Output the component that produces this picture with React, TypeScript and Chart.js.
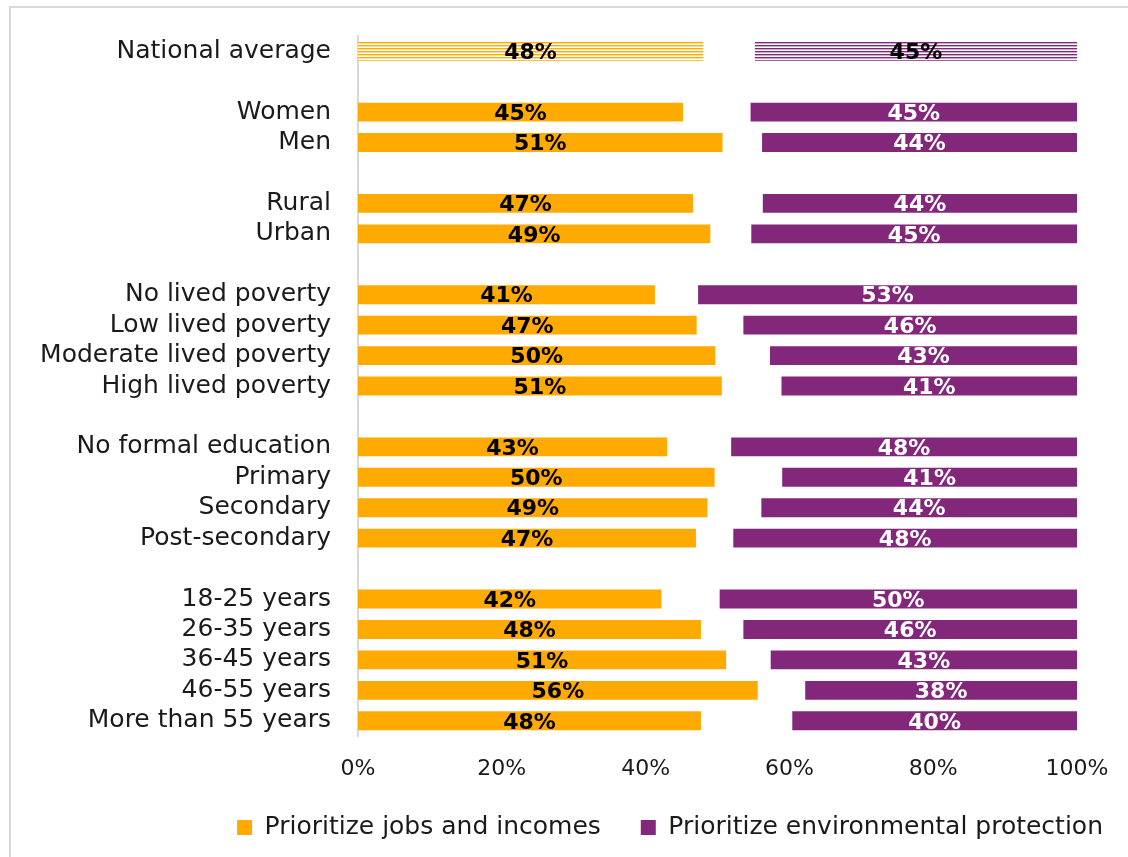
import React, { useEffect, useRef } from 'react';
import { Chart, registerables } from 'chart.js';

Chart.register(...registerables);

const FONT = '"DejaVu Sans", sans-serif';
const TEXT = '#1a1a1a';
const ORANGE = '#FFAA00';
const PURPLE = '#83277A';

const categories = [
  'National average', '',
  'Women', 'Men', '',
  'Rural', 'Urban', '',
  'No lived poverty', 'Low lived poverty', 'Moderate lived poverty', 'High lived poverty', '',
  'No formal education', 'Primary', 'Secondary', 'Post-secondary', '',
  '18-25 years', '26-35 years', '36-45 years', '46-55 years', 'More than 55 years',
];

const jobsValues: (number | null)[] = [
  48.0, null,
  45.2, 50.7, null,
  46.6, 49.0, null,
  41.3, 47.1, 49.7, 50.6, null,
  43.0, 49.6, 48.6, 47.0, null,
  42.2, 47.7, 51.2, 55.6, 47.7,
];

const envValues: (number | null)[] = [
  44.8, null,
  45.4, 43.8, null,
  43.7, 45.3, null,
  52.7, 46.4, 42.7, 41.1, null,
  48.1, 41.0, 43.9, 47.8, null,
  49.7, 46.4, 42.6, 37.8, 39.6,
];

const xTicks = [0, 20, 40, 60, 80, 100];
const seriesNames = ['Prioritize jobs and incomes', 'Prioritize environmental protection'];
const seriesColors = [ORANGE, PURPLE];

function makeHatch(color: string) {
  const c = document.createElement('canvas');
  c.width = 8;
  c.height = 3;
  const g = c.getContext('2d')!;
  g.fillStyle = '#ffffff';
  g.fillRect(0, 0, 8, 3);
  g.fillStyle = color;
  g.fillRect(0, 0, 8, 1.4);
  return g.createPattern(c, 'repeat')!;
}

const barLabels = {
  id: 'barLabels',
  afterDatasetsDraw(chart: any) {
    const ctx = chart.ctx;
    ctx.save();
    ctx.font = `bold 22px ${FONT}`;
    ctx.textAlign = 'center';
    ctx.textBaseline = 'middle';
    chart.data.datasets.forEach((_ds: any, di: number) => {
      const meta = chart.getDatasetMeta(di);
      const vals = di === 0 ? jobsValues : envValues;
      meta.data.forEach((el: any, i: number) => {
        const v = vals[i];
        if (v == null) return;
        const { x, base, y } = el.getProps(['x', 'base', 'y'], true);
        ctx.fillStyle = di === 1 && i !== 0 ? '#ffffff' : '#000000';
        ctx.fillText(Math.round(v) + '%', (x + base) / 2, y + 2);
      });
    });
    ctx.restore();
  },
};

export default function App() {
  const ref = useRef<HTMLCanvasElement>(null);

  useEffect(() => {
    if (!ref.current) return;
    const hatchO = makeHatch(ORANGE);
    const hatchP = makeHatch(PURPLE);
    const chart = new Chart(ref.current, {
      type: 'bar',
      data: {
        labels: categories,
        datasets: [
          {
            label: seriesNames[0],
            data: jobsValues as any,
            yAxisID: 'y',
            grouped: false,
            backgroundColor: (c: any) => (c.dataIndex === 0 ? hatchO : ORANGE),
            borderWidth: 0,
            barPercentage: 0.62,
            categoryPercentage: 1,
          } as any,
          {
            label: seriesNames[1],
            data: envValues.map((v) => (v == null ? null : [100 - v, 100])) as any,
            yAxisID: 'y',
            grouped: false,
            backgroundColor: (c: any) => (c.dataIndex === 0 ? hatchP : PURPLE),
            borderWidth: 0,
            barPercentage: 0.62,
            categoryPercentage: 1,
          } as any,
        ],
      },
      options: {
        indexAxis: 'y',
        responsive: false,
        animation: false,
        layout: { padding: { left: 0, right: -15, top: 36, bottom: 7 } },
        scales: {
          x: {
            type: 'linear',
            min: 0,
            max: 100,
            grid: { display: false, drawTicks: false },
            border: { display: false },
            afterBuildTicks: (s: any) => {
              s.ticks = xTicks.map((v) => ({ value: v }));
            },
            afterFit: (s: any) => {
              s.height = 39;
              s.paddingLeft = 0;
              s.paddingRight = 0;
            },
            ticks: {
              padding: 20,
              color: TEXT,
              font: { family: FONT, size: 22 },
              callback: (v: any) => v + '%',
              maxRotation: 0,
            },
          },
          y: {
            type: 'category',
            position: 'left',
            grid: { display: false, drawTicks: false },
            border: { display: true, color: '#d9d9d9', width: 2 },
            afterFit: (s: any) => {
              s.width = 358;
              s.paddingTop = 0;
              s.paddingBottom = 0;
            },
            ticks: {
              autoSkip: false,
              padding: 27,
              color: TEXT,
              font: { family: FONT, size: 25 },
            },
          },
          yRight: {
            type: 'category',
            position: 'right',
            grid: { display: false, drawTicks: false },
            border: { display: false },
            ticks: { display: false },
            afterFit: (s: any) => {
              s.width = 66;
              s.paddingTop = 0;
              s.paddingBottom = 0;
            },
          },
        },
        plugins: {
          legend: {
            position: 'bottom',
            align: 'end',
            labels: {
              boxWidth: 15,
              boxHeight: 15,
              padding: 40,
              color: TEXT,
              font: { family: FONT, size: 25 },
              generateLabels: () =>
                seriesNames.map((name, i) => ({
                  text: name,
                  fillStyle: seriesColors[i],
                  strokeStyle: seriesColors[i],
                  lineWidth: 0,
                  hidden: false,
                  datasetIndex: i,
                  fontColor: TEXT,
                })),
            },
          },
          tooltip: { enabled: false },
        },
      } as any,
      plugins: [barLabels],
    });
    return () => chart.destroy();
  }, []);

  return (
    <div style={{ position: 'absolute', left: 0, top: 0, width: 1128, height: 857, overflow: 'hidden', background: '#fff' }}>
      <div style={{ position: 'absolute', left: 9, top: 6, width: 2, height: 900, background: '#d9d9d9' }} />
      <div style={{ position: 'absolute', left: 9, top: 6, width: 1200, height: 2, background: '#d9d9d9' }} />
      <canvas ref={ref} width={1128} height={857} style={{ position: 'absolute', left: 0, top: 0, width: 1128, height: 857 }} />
    </div>
  );
}
